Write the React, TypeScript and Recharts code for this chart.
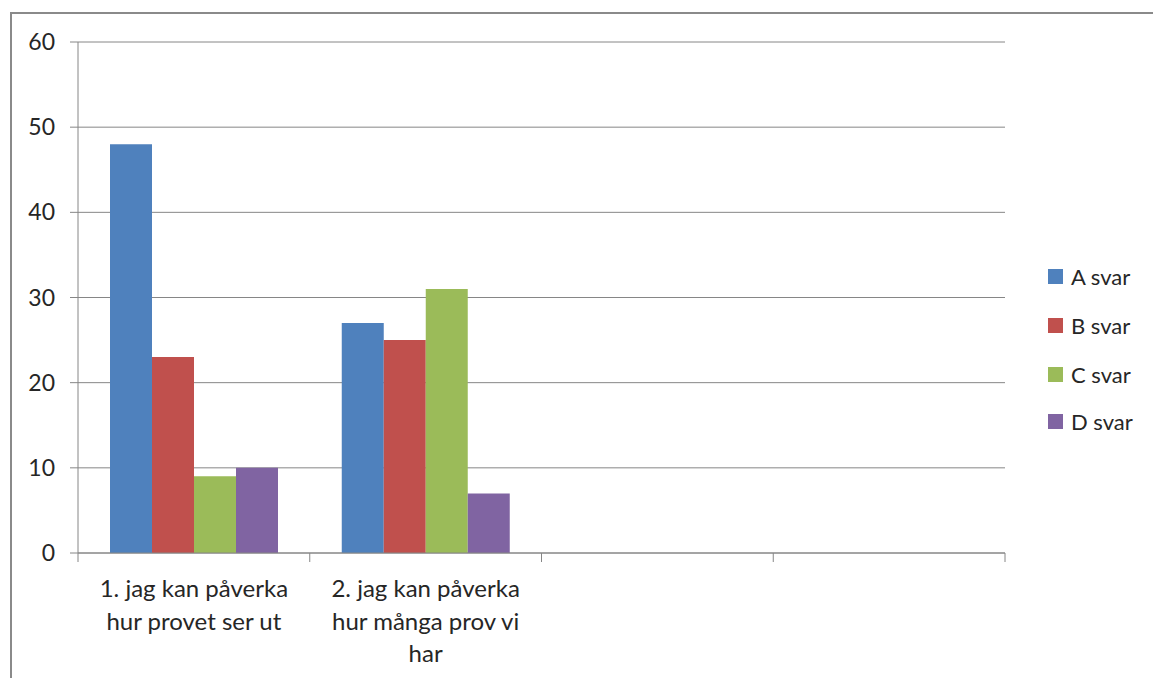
import { BarChart, Bar, XAxis, YAxis, CartesianGrid } from 'recharts';

const categories = [
  '1. jag kan påverka hur provet ser ut',
  '2. jag kan påverka hur många prov vi har',
  '',
  '',
];

const categoryLines = [
  ['1. jag kan påverka', 'hur provet ser ut'],
  ['2. jag kan påverka', 'hur många prov vi', 'har'],
  [],
  [],
];

const aSvar = [48, 27, null, null];
const bSvar = [23, 25, null, null];
const cSvar = [9, 31, null, null];
const dSvar = [10, 7, null, null];

const yTicks = [0, 10, 20, 30, 40, 50, 60];

const series = [
  { key: 'a', name: 'A svar', color: '#4F81BD' },
  { key: 'b', name: 'B svar', color: '#C0504D' },
  { key: 'c', name: 'C svar', color: '#9BBB59' },
  { key: 'd', name: 'D svar', color: '#8064A2' },
];

const data = categories.map((name, i) => ({
  name,
  idx: i,
  a: aSvar[i],
  b: bSvar[i],
  c: cSvar[i],
  d: dSvar[i],
}));

const W = 1153;
const H = 678;
const LEFT = 78;
const RIGHT = 148;
const TOP = 42;
const XAXIS_H = 125;
const AXIS_COLOR = '#868686';
const FONT = 'Lato, "Open Sans", sans-serif';
const BAND = (W - LEFT - RIGHT) / categories.length;

const CategoryTick = (props: any) => {
  const { x, payload, index } = props;
  const lines = categoryLines[payload?.index ?? index] || [];
  const axisY = H - XAXIS_H;
  return (
    <g>
      {index === 0 && (
        <line x1={x - BAND / 2} x2={x - BAND / 2} y1={axisY} y2={axisY + 9} stroke={AXIS_COLOR} />
      )}
      <line x1={x + BAND / 2} x2={x + BAND / 2} y1={axisY} y2={axisY + 9} stroke={AXIS_COLOR} />
      {lines.map((l: string, i: number) => (
        <text
          key={i}
          x={x}
          y={axisY + 44 + i * 32.5}
          textAnchor="middle"
          fill="#262626"
          fontSize={24}
          fontFamily={FONT}
        >
          {l}
        </text>
      ))}
    </g>
  );
};

const legendRows = [276, 325, 374, 421];

const App = () => {
  return (
    <div style={{ position: 'fixed', left: 0, top: 0, width: W, height: H, overflow: 'hidden', background: '#fff' }}>
      <div
        style={{
          position: 'absolute',
          left: 10,
          top: 12,
          width: 1300,
          height: 800,
          border: '2px solid #8a8a8a',
          boxSizing: 'border-box',
        }}
      />
      <div style={{ position: 'absolute', left: 0, top: 0 }}>
        <BarChart
          width={W}
          height={H}
          data={data}
          margin={{ top: TOP, right: RIGHT, left: 0, bottom: 0 }}
          barCategoryGap={32}
          barGap={0}
        >
          <CartesianGrid vertical={false} stroke={AXIS_COLOR} strokeWidth={1} />
          <YAxis
            width={LEFT}
            domain={[0, 60]}
            ticks={yTicks}
            interval={0}
            axisLine={{ stroke: AXIS_COLOR }}
            tickLine={{ stroke: AXIS_COLOR }}
            tickSize={8}
            tickMargin={15}
            tick={{ fill: '#262626', fontSize: 23, fontFamily: FONT }}
          />
          <XAxis
            dataKey="idx"
            height={XAXIS_H}
            interval={0}
            axisLine={{ stroke: AXIS_COLOR }}
            tickLine={false}
            tick={<CategoryTick />}
          />
          {series.map((s) => (
            <Bar key={s.key} dataKey={s.key} name={s.name} fill={s.color} isAnimationActive={false} />
          ))}
        </BarChart>
      </div>
      {series.map((s, i) => (
        <div
          key={s.key}
          style={{
            position: 'absolute',
            left: 1048,
            top: legendRows[i] - 15,
            height: 30,
            display: 'flex',
            alignItems: 'center',
            fontFamily: FONT,
            fontSize: 22,
            color: '#262626',
          }}
        >
          <span style={{ display: 'inline-block', width: 15, height: 15, background: s.color, marginRight: 8 }} />
          <span>{s.name}</span>
        </div>
      ))}
    </div>
  );
};

export default App;
